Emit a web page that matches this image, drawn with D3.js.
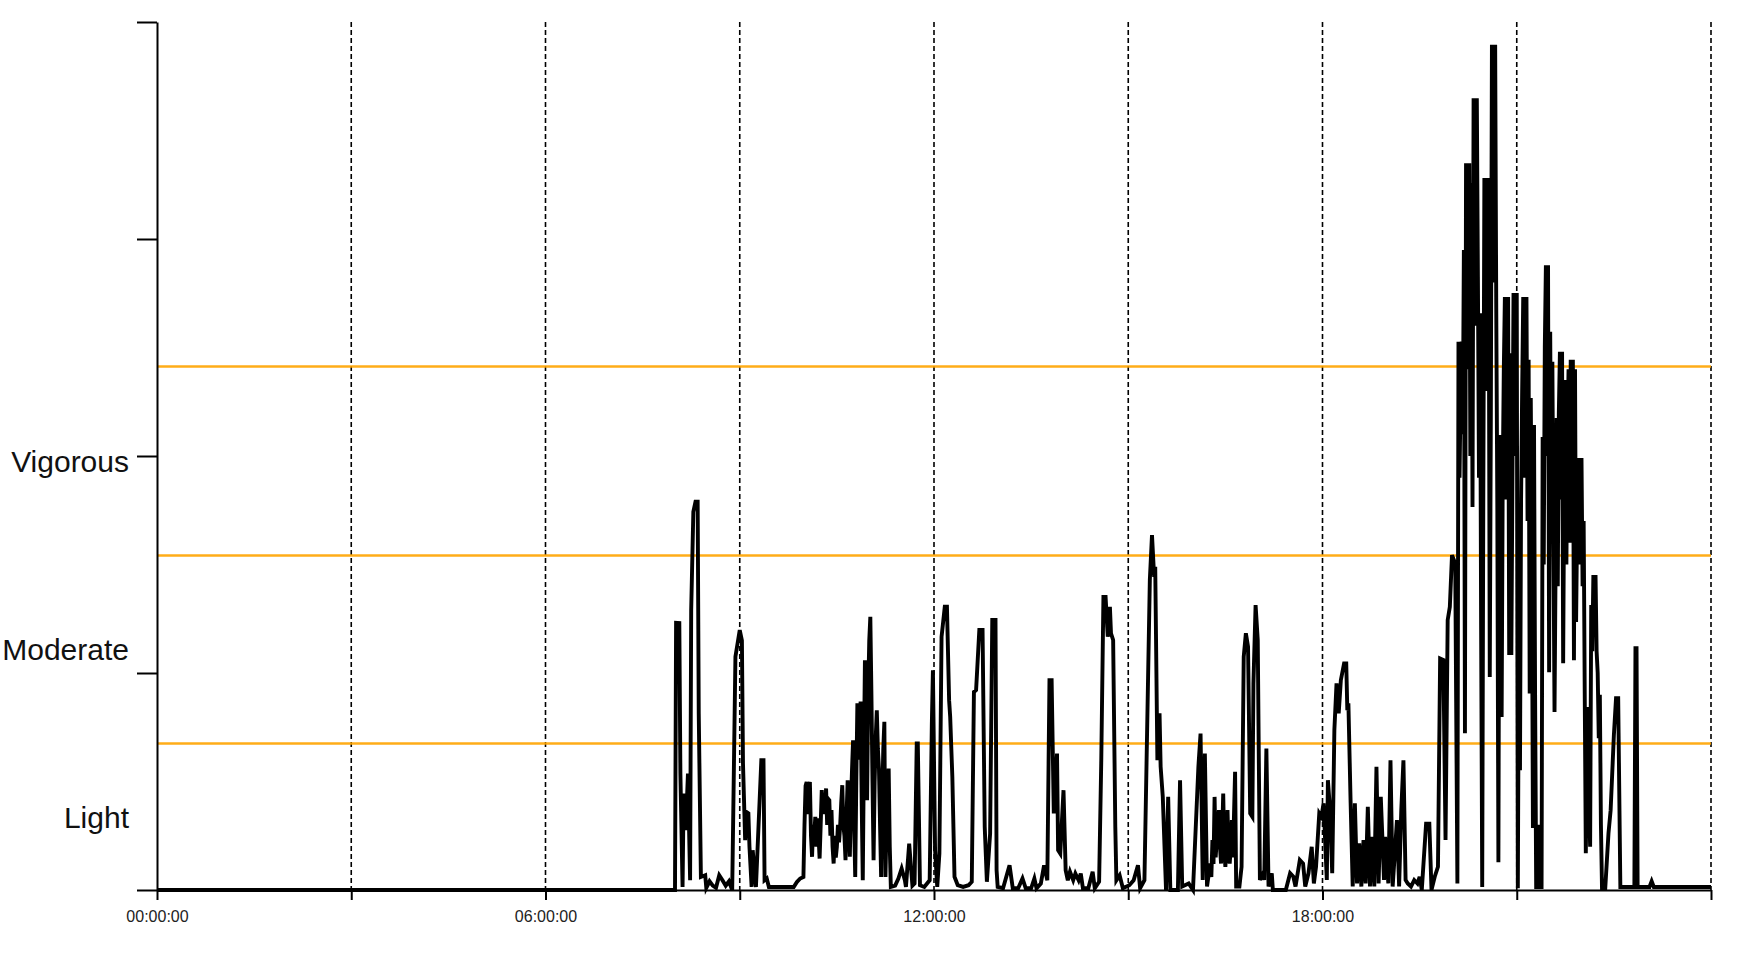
<!DOCTYPE html>
<html><head><meta charset="utf-8">
<script src="https://cdn.jsdelivr.net/npm/d3@7"></script>
<style>body{margin:0;background:#fff}svg{display:block}</style>
</head><body>
<svg id="chart" width="1744" height="956"></svg>
<script>
// time of day in minutes after midnight
const minutes = [0,480,481,484,485,487,488,490,492,494,495,497,499,501,502,504,508,509,512,515,518,521,524,527,530,533,536,540,542,543,545,546,548,549,551,552,555,560,562,563,565,567,590,593,596,599,
600,601,602,603,604,605,606,607,608,609,610,611,612,613,614,615,616,617,618,619,620,621,622,623,624,625,626,627,628,629,630,631,632,633,634,635,636,637,638,639,640,641,642,643,644,645,646,647,648,649,650,651,652,653,654,655,656,657,658,659,660,661,662,663,664,665,666,667,668,669,670,671,672,673,674,675,676,677,678,679,680,
684,687,690,693,694,697,700,702,704,705,707,
711,716,718,719,721,723,725,727,730,732,734,735,737,739,742,747,752,755,757,759,762,765,767,769,772,774,777,778,779,784,790,793,798,802,805,810,813,815,819,822,825,827,829,831,834,835,837,840,842,844,846,849,851,854,856,858,863,867,869,873,875,877,879,881,883,884,886,888,889,892,895,901,905,909,
911,915,917,920,922,924,925,927,929,930,932,935,937,939,946,948,950,956,960,965,967,969,971,973,976,977,978,979,980,981,982,983,984,985,986,987,988,989,990,991,992,993,994,995,996,997,999,1000,1003,1005,1007,1009,1011,1013,1015,1016,1018,1020,1022,1025,1026,1028,1030,1033,1034,1046,1050,1053,1055,1059,1062,1064,1067,1070,1072,1074,1077,1079,1081,1084,1085,1087,1089,1091,1093,1095,1097,1100,1102,1103,1104,1106,1108,1110,1112,1114,1116,1118,1120,1122,1124,1126,1128,1130,1132,1134,1137,1138,1141,1143,1145,1147,1149,1151,1153,1155,1157,1159,1162,1165,1168,1170,1172,1176,1179,1181,1184,1187,1189,1192,1194,1196,1198,1200,1203,1205,
1206,1207,1208,1209,1210,1211,1212,1213,1214,1215,1216,1217,1218,1219,1220,1221,1222,1223,1224,1225,1226,1227,1228,1229,1230,1231,1232,1233,1234,1235,1236,1237,1238,1239,1240,1241,1242,1243,1244,1245,1246,1247,1248,1249,1250,1251,1252,1253,1254,1255,1256,1257,1258,1259,1260,1261,1262,1263,1264,1265,1266,1267,1268,1269,1270,1271,1272,1273,1274,1275,1276,1277,1278,1279,1280,1281,1283,1284,1285,1286,1287,1288,1289,1290,1291,1292,1293,1294,1295,1296,1297,1298,1299,1300,1301,1302,1303,1304,1305,1306,1307,1308,1309,1310,1311,1312,1313,1314,1315,1316,1317,1318,1319,1320,1321,1322,1323,1324,1325,1326,1327,1328,1329,1330,1331,1332,1333,1334,1335,1336,1337,1338,1339,1342,1345,1347,1350,1352,1354,1356,1369,1370,1371,1372,1383,1385,1387,1440];
// activity counts per epoch
const counts = [0,0,1231,1230,537,14,445,276,537,45,1290,1743,1789,1789,814,60,68,10,40,20,10,68,45,20,40,0,1075,1198,1150,583,230,360,353,200,14,183,14,598,598,45,53,14,14,37,53,60,
300,480,498,350,470,498,250,153,300,250,337,200,330,250,145,300,460,380,440,350,468,300,420,414,250,368,200,122,250,150,199,300,220,291,400,483,300,250,137,350,506,300,153,400,550,690,300,60,500,860,600,750,868,400,45,600,1059,700,414,900,1150,1259,905,500,137,500,700,828,650,560,300,60,400,650,775,60,300,450,560,200,14,
20,53,99,45,14,214,20,30,675,675,22,
14,45,767,1013,183,14,168,1167,1305,1305,875,798,521,61,22,14,22,38,913,921,1198,1198,291,38,260,1244,1244,91,14,8,114,8,8,53,8,8,53,8,30,114,45,967,967,353,629,184,168,460,91,45,84,45,76,45,76,8,8,84,8,38,598,1351,1351,1167,1305,1183,1152,291,45,68,8,22,45,114,
8,45,598,1428,1636,1443,1490,598,814,569,429,0,429,0,0,506,16,30,0,568,721,46,629,16,122,60,230,120,429,150,230,300,368,200,122,250,445,180,107,200,368,150,122,200,322,150,545,16,16,107,1075,1183,1121,353,337,952,1313,1152,46,77,46,652,16,77,0,0,77,61,16,138,122,16,77,199,30,107,353,337,399,46,506,368,77,737,952,814,967,1044,1044,829,860,414,16,399,30,215,16,230,30,383,16,245,16,568,30,429,46,245,30,598,16,169,322,16,368,598,46,30,16,46,30,61,0,306,306,0,61,107,1067,1060,230,1244,1305,1543,1505,30,
2527,1900,2300,2527,2100,2949,722,3349,2400,3100,3349,2000,3257,1765,3649,2600,3400,3649,2826,1900,2658,1200,14,1800,3281,2300,3000,3281,2965,982,2200,3895,2800,3500,3895,2686,1765,128,2097,1500,797,1900,2400,2733,1800,2500,2733,1083,2474,1083,1900,2751,2000,2600,2751,8,1200,552,1800,2300,2733,1900,2500,2733,1700,2443,906,2267,1500,286,2143,900,14,14,300,14,14,2087,1500,2500,2879,2000,2879,1004,2572,1700,2434,1600,820,1500,2175,1400,2200,2480,1800,2480,1045,1900,2350,1500,2100,2400,1600,2443,1800,2443,1059,2400,1235,1700,1991,1500,1800,1991,1400,1700,900,169,600,843,400,199,1313,1100,1451,1200,1451,1100,1000,700,900,300,8,8,261,368,714,884,884,14,14,1114,1114,14,14,40,14,14];

const yTickValues = [0, 1000, 2000, 3000, 4000];
const xTickHours = [0, 3, 6, 9, 12, 15, 18, 21, 24];
const xTickLabels = ["00:00:00", "", "06:00:00", "", "12:00:00", "", "18:00:00", "", ""];
const gridHours = [3, 6, 9, 12, 15, 18, 21, 24];
const zoneBounds = [0, 675, 1541, 2412];
const zoneNames = ["Light", "Moderate", "Vigorous"];

const svg = d3.select("#chart");
const x = d3.scaleLinear().domain([0, 1440]).range([157, 1711]);
const y = d3.scaleLinear().domain([0, 4000]).range([890, 22]);

// dashed hour grid
svg.append("g").selectAll("line").data(gridHours).join("line")
  .attr("x1", d => x(d * 60)).attr("x2", d => x(d * 60))
  .attr("y1", y(4000)).attr("y2", y(0))
  .attr("stroke", "#000").attr("stroke-width", 1.6)
  .attr("stroke-dasharray", "5,3");

// intensity thresholds
svg.append("g").selectAll("line").data(zoneBounds.slice(1)).join("line")
  .attr("x1", x(0)).attr("x2", x(1440))
  .attr("y1", d => y(d)).attr("y2", d => y(d))
  .attr("stroke", "#FFA500").attr("stroke-width", 2.5).attr("opacity", 0.9);

// axes
const yAxis = d3.axisLeft(y).tickValues(yTickValues).tickSize(20).tickSizeOuter(0).tickFormat("");
const gy = svg.append("g").attr("transform", `translate(${x(0)},0)`).call(yAxis);
gy.selectAll("path,line").attr("stroke", "#000").attr("stroke-width", 2);

const xAxis = d3.axisBottom(x).tickValues(xTickHours.map(h => h * 60)).tickSize(10).tickSizeOuter(0)
  .tickPadding(11).tickFormat((d, i) => xTickLabels[i]);
const gx = svg.append("g").attr("transform", `translate(0,${y(0)})`).call(xAxis);
gx.selectAll("path,line").attr("stroke", "#000").attr("stroke-width", 2);
gx.selectAll("text").attr("font-family", "'Liberation Sans', Arial, sans-serif")
  .attr("font-size", 16).attr("fill", "#222");

// zone labels
svg.append("g").selectAll("text").data(zoneNames).join("text")
  .attr("x", 129)
  .attr("y", (d, i) => y((zoneBounds[i] + (i + 1 < zoneBounds.length ? zoneBounds[i + 1] : 0)) / 2))
  .attr("dy", "0.36em")
  .attr("text-anchor", "end")
  .attr("font-family", "'Liberation Sans', Arial, sans-serif")
  .attr("font-size", 30).attr("fill", "#111")
  .text(d => d);

// activity trace
const series = minutes.map((m, i) => [m, counts[i]]);
svg.append("path").datum(series)
  .attr("fill", "none").attr("stroke", "#000").attr("stroke-width", 3.9)
  .attr("stroke-linejoin", "miter")
  .attr("d", d3.line().x(d => x(d[0])).y(d => y(d[1])));
</script>
</body></html>
